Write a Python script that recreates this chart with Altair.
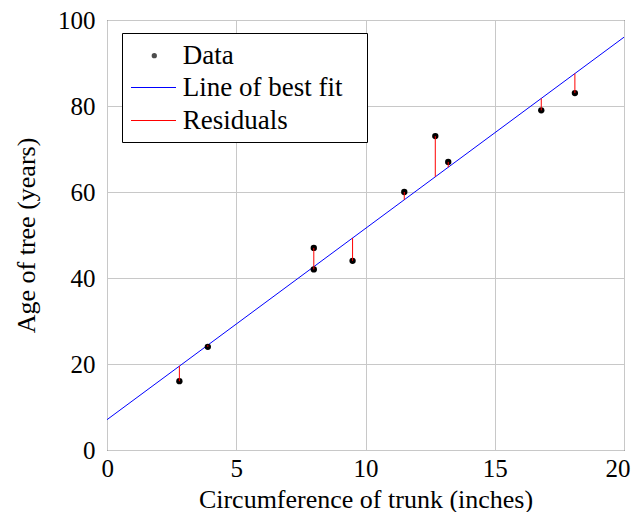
import altair as alt
import pandas as pd

# Values
trunk = [2.8, 3.9, 8.0, 8.0, 9.5, 11.5, 12.7, 13.2, 16.8, 18.1]
age = [16, 24, 47, 42, 44, 60, 73, 67, 79, 83]
fit_x = [0, 20]
fit_y = [7.05, 96.0]
fit_intercept = 7.05
fit_slope = 4.4475
x_ticks = [0, 5, 10, 15, 20]
y_ticks = [0, 20, 40, 60, 80, 100]
series_names = ["Data", "Line of best fit", "Residuals"]
series_colors = ["black", "#0000ff", "#ff0000"]

FONT = "Liberation Serif"

pts = pd.DataFrame({"x": trunk, "y": age})
res = pd.DataFrame({"x": trunk, "y": age})
fit = pd.DataFrame({"x": fit_x, "y": fit_y})

xs = alt.Scale(domain=[0, 20], nice=False, zero=False)
ys = alt.Scale(domain=[0, 100], nice=False, zero=False)

xaxis = alt.Axis(values=x_ticks, title="Circumference of trunk (inches)", format="d")
yaxis = alt.Axis(values=y_ticks, title="Age of tree (years)", format="d")

X = alt.X("x:Q", scale=xs, axis=xaxis)
Y = alt.Y("y:Q", scale=ys, axis=yaxis)

line = alt.Chart(fit).mark_line(strokeWidth=1, clip=True, color=series_colors[1]).encode(
    x=X, y=Y,
)

points = alt.Chart(pts).mark_point(filled=True, size=40, opacity=1, strokeWidth=0,
                                   color=series_colors[0]).encode(
    x=X, y=Y,
)

resid = alt.Chart(res).transform_calculate(
    yfit=f"{fit_intercept} + {fit_slope} * datum.x"
).mark_rule(strokeWidth=1, color=series_colors[2]).encode(
    x=X, y=Y, y2="yfit:Q",
)

# ---- legend (boxed, top-left inside the plot) ----
one = alt.Data(values=[{}])
row_y = [35.7, 67.5, 100.5]

legend_box = alt.Chart(one).mark_rect(fill="white", stroke="black", strokeWidth=1).encode(
    x=alt.value(15.5), x2=alt.value(260.5), y=alt.value(13.5), y2=alt.value(122.5),
)
legend_dot = alt.Chart(one).mark_point(filled=True, size=28, strokeWidth=0,
                                       color=series_colors[0]).encode(
    x=alt.value(47.3), y=alt.value(row_y[0]),
)
legend_fit = alt.Chart(one).mark_rule(strokeWidth=1, color=series_colors[1]).encode(
    x=alt.value(24), x2=alt.value(69), y=alt.value(row_y[1]),
)
legend_res = alt.Chart(one).mark_rule(strokeWidth=1, color=series_colors[2]).encode(
    x=alt.value(24), x2=alt.value(69), y=alt.value(row_y[2]),
)
legend_texts = [
    alt.Chart(alt.Data(values=[{"label": name}])).mark_text(
        align="left", baseline="middle", font=FONT, fontSize=27, color="black",
    ).encode(x=alt.value(75.7), y=alt.value(yy), text="label:N")
    for name, yy in zip(series_names, row_y)
]

chart = alt.layer(
    line, points, resid, legend_box, legend_dot, legend_fit, legend_res, *legend_texts
).properties(
    width=517, height=430,
    autosize=alt.AutoSizeParams(type="none"),
    padding={"left": 99, "top": 12, "right": 7, "bottom": 62},
).configure_view(
    stroke="black", strokeWidth=1
).configure_axis(
    grid=True, gridColor="#c8c8c8", gridWidth=1, domain=False, ticks=False,
    labelFont=FONT, labelFontSize=25, labelColor="black",
    titleFont=FONT, titleFontSize=26, titleColor="black", titleFontWeight="normal",
).configure_axisX(
    labelPadding=6, titlePadding=5, labelFlush=True, labelFlushOffset=6,
).configure_axisY(
    labelPadding=12, titlePadding=18,
)

chart.save("out.html", embed_options={"renderer": "svg", "actions": False})
